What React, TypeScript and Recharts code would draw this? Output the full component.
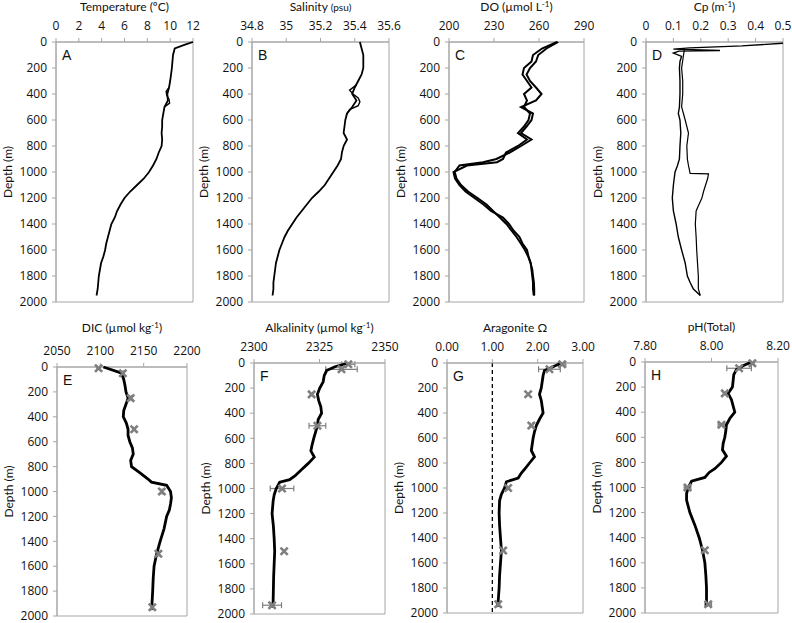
import React from "react";
import {
  ScatterChart,
  Scatter,
  XAxis,
  YAxis,
  ReferenceArea,
  ReferenceLine,
  ErrorBar,
} from "recharts";

const TICK_FONT = "'Open Sans', sans-serif";
const TITLE_FONT = "Lato, 'Open Sans', sans-serif";
const FRAME = "#a6a6a6";
const INK = "#111";
const MARK = "#7f7f7f";

const DEPTH_TICKS = [0, 200, 400, 600, 800, 1000, 1200, 1400, 1600, 1800, 2000];

// A - temperature
const A_DEPTH = [0, 20, 50, 100, 200, 300, 350, 400, 450, 500, 550, 600, 650, 700, 750, 800, 850, 900, 950, 1000, 1050, 1100, 1150, 1200, 1250, 1300, 1350, 1400, 1450, 1500, 1550, 1600, 1650, 1700, 1750, 1800, 1850, 1900, 1950];
const TEMP = [12.0, 11.3, 10.4, 10.25, 10.15, 10.0, 9.9, 9.75, 9.8, 9.5, 9.4, 9.3, 9.3, 9.25, 9.3, 9.25, 9.0, 8.8, 8.5, 8.15, 7.7, 7.1, 6.5, 6.0, 5.65, 5.35, 5.15, 4.85, 4.7, 4.55, 4.4, 4.3, 4.15, 3.95, 3.85, 3.75, 3.7, 3.65, 3.55];
const A_LOOP_DEPTH = [350, 380, 410, 440, 470, 500];
const TEMP_LOOP = [9.9, 9.65, 9.7, 9.9, 9.95, 9.5];

// B - salinity
const B_DEPTH = [0, 50, 100, 200, 250, 300, 350, 400, 450, 500, 550, 600, 650, 700, 750, 800, 850, 900, 950, 1000, 1050, 1100, 1150, 1200, 1250, 1300, 1350, 1400, 1450, 1500, 1550, 1600, 1650, 1700, 1750, 1800, 1850, 1900, 1950];
const SAL = [35.43, 35.44, 35.45, 35.45, 35.44, 35.42, 35.40, 35.385, 35.41, 35.385, 35.355, 35.345, 35.34, 35.335, 35.355, 35.335, 35.325, 35.32, 35.30, 35.275, 35.25, 35.225, 35.19, 35.15, 35.12, 35.09, 35.06, 35.035, 35.01, 34.99, 34.975, 34.96, 34.95, 34.94, 34.935, 34.93, 34.925, 34.925, 34.92];
const B_LOOP_DEPTH = [330, 370, 400, 430, 460, 490, 520, 560];
const SAL_LOOP = [35.41, 35.37, 35.39, 35.42, 35.43, 35.42, 35.37, 35.35];

// C - dissolved oxygen (two casts)
const C_DEPTH = [0, 50, 100, 150, 200, 250, 300, 350, 400, 450, 500, 550, 600, 650, 700, 750, 800, 850, 900, 925, 950, 1000, 1050, 1100, 1150, 1200, 1250, 1300, 1350, 1400, 1450, 1500, 1550, 1600, 1650, 1700, 1750, 1800, 1850, 1900, 1950];
const DO_DOWN = [272.8, 265, 259.5, 258, 254, 251.7, 254, 258, 261.7, 258, 248, 256, 255, 251.7, 248, 255, 248, 240.5, 231.6, 222.7, 207, 203.8, 205, 208, 212.7, 219, 225, 229.4, 233.9, 238.3, 241.6, 245, 247.9, 250.6, 252.8, 254.3, 255.5, 256, 256.6, 256.8, 256.8];
const DO_UP = [272, 262, 256, 255, 250, 249, 252, 255, 250, 252, 250, 254, 253, 250, 246, 252, 246, 238, 236, 232, 212, 203, 204, 207, 211, 217, 223, 228, 236, 240, 243, 247, 249, 252, 253, 254.5, 255, 255.5, 256, 256, 256.5];

// D - beam attenuation (two casts)
const D1_DEPTH = [10, 30, 45, 55, 65, 70, 85, 110, 150, 200, 300, 400, 500, 550, 600, 700, 800, 900, 950, 1000, 1100, 1200, 1300, 1400, 1500, 1600, 1700, 1800, 1850, 1900, 1950];
const CP1 = [0.5, 0.35, 0.16, 0.1, 0.27, 0.12, 0.1, 0.13, 0.124, 0.122, 0.124, 0.124, 0.122, 0.118, 0.124, 0.127, 0.124, 0.122, 0.115, 0.106, 0.1, 0.096, 0.1, 0.11, 0.118, 0.13, 0.143, 0.151, 0.161, 0.173, 0.198];
const D2_DEPTH = [60, 100, 200, 300, 400, 500, 600, 650, 700, 800, 900, 950, 1010, 1015, 1050, 1150, 1200, 1265, 1300, 1400, 1500, 1600, 1700, 1800, 1900, 1950];
const CP2 = [0.14, 0.137, 0.13, 0.134, 0.134, 0.13, 0.143, 0.149, 0.155, 0.149, 0.151, 0.155, 0.161, 0.228, 0.225, 0.21, 0.204, 0.19, 0.183, 0.18, 0.183, 0.185, 0.188, 0.191, 0.191, 0.198];

// bottle samples, shared depths
const SAMPLE_DEPTH = [10, 50, 250, 500, 1000, 1500, 1930];

// E - DIC
const E_DEPTH = [0, 50, 100, 150, 200, 250, 300, 350, 400, 450, 500, 550, 600, 650, 700, 750, 800, 850, 900, 925, 950, 1000, 1050, 1100, 1150, 1200, 1300, 1400, 1500, 1600, 1700, 1800, 1900, 1950];
const DIC = [2103.5, 2124.6, 2127, 2128.5, 2129.6, 2132, 2129.6, 2127, 2126.5, 2130, 2132, 2132, 2134, 2137, 2138, 2135, 2136, 2145.8, 2155, 2159, 2176.5, 2181, 2182, 2181, 2179.6, 2176.5, 2173.5, 2169, 2165, 2162, 2161, 2160.4, 2159.6, 2159.6];
const DIC_SAMPLES = [2098, 2126, 2135, 2139, 2171, 2167, 2160];
const DIC_ERR = [2, 1, 1, 1.5, 1, 1, 1];

// F - alkalinity
const F_DEPTH = [0, 30, 60, 100, 150, 200, 250, 300, 350, 400, 450, 500, 550, 600, 650, 700, 750, 800, 850, 900, 930, 950, 1000, 1050, 1100, 1200, 1300, 1400, 1500, 1600, 1700, 1800, 1900, 1950];
const ALK = [2336, 2330.9, 2327.7, 2326.8, 2326.4, 2325.1, 2324.2, 2324.7, 2325.5, 2325.8, 2324.5, 2324.2, 2323.5, 2322.8, 2322.2, 2321.7, 2323, 2320.7, 2318.1, 2315.6, 2313.6, 2309.8, 2308.5, 2307.7, 2307.3, 2306.9, 2307.4, 2307.7, 2307.9, 2307.7, 2307.5, 2307.4, 2307.3, 2307.1];
const ALK_SAMPLES = [2336, 2333.4, 2322, 2324.2, 2310.7, 2311.5, 2306.9];
const ALK_ERR = [2.5, 6, 0, 3.2, 4.5, 0, 3.6];

// G, H - carbonate system
const CARB_DEPTH = [0, 30, 60, 100, 150, 200, 250, 300, 350, 400, 450, 500, 550, 600, 650, 700, 750, 800, 850, 880, 920, 950, 1000, 1050, 1100, 1200, 1300, 1400, 1500, 1600, 1700, 1800, 1900, 1950];
const OMEGA = [2.52, 2.34, 2.15, 2.12, 2.10, 2.08, 2.04, 2.08, 2.10, 2.12, 2.04, 1.97, 1.93, 1.90, 1.88, 1.86, 1.93, 1.82, 1.71, 1.64, 1.57, 1.31, 1.27, 1.20, 1.16, 1.15, 1.16, 1.18, 1.20, 1.18, 1.16, 1.15, 1.13, 1.11];
const OMEGA_SAMPLES = [2.54, 2.26, 1.79, 1.86, 1.35, 1.24, 1.13];
const OMEGA_ERR = [0.08, 0.24, 0, 0.03, 0.03, 0.03, 0.03];
const PH = [8.12, 8.095, 8.075, 8.067, 8.065, 8.063, 8.05, 8.06, 8.065, 8.07, 8.055, 8.045, 8.043, 8.04, 8.035, 8.033, 8.045, 8.03, 8.01, 7.993, 7.98, 7.94, 7.93, 7.925, 7.925, 7.935, 7.95, 7.963, 7.973, 7.98, 7.983, 7.985, 7.985, 7.985];
const PH_SAMPLES = [8.123, 8.083, 8.04, 8.03, 7.928, 7.98, 7.99];
const PH_ERR = [0.005, 0.037, 0, 0.01, 0.01, 0, 0.01];

const zip = (depth: number[], value: number[], err?: number[]) =>
  depth.map((d, i) => ({ d, v: value[i], e: err ? err[i] : 0 }));

type Title = { pre: string; sup?: string; post?: string; small?: string };

const PANELS = [
  {
    letter: "A", box: { x: 56, y: 41.7, w: 137, h: 260 }, gap: 31,
    title: { pre: "Temperature (ºC)" } as Title,
    domain: [0, 12], ticks: [0, 2, 4, 6, 8, 10, 12], digits: -1,
    lines: [{ pts: zip(A_DEPTH, TEMP), w: 1.8 }, { pts: zip(A_LOOP_DEPTH, TEMP_LOOP), w: 1.4 }],
  },
  {
    letter: "B", box: { x: 252, y: 41.7, w: 137, h: 260 }, gap: 31,
    title: { pre: "Salinity ", small: " (psu)" } as Title,
    domain: [34.8, 35.6], ticks: [34.8, 35, 35.2, 35.4, 35.6], digits: -1,
    lines: [{ pts: zip(B_DEPTH, SAL), w: 1.8 }, { pts: zip(B_LOOP_DEPTH, SAL_LOOP), w: 1.4 }],
  },
  {
    letter: "C", box: { x: 449, y: 41.7, w: 135, h: 260 }, gap: 31,
    title: { pre: "DO (µmol L", sup: "-1", post: ")" } as Title,
    domain: [200, 290], ticks: [200, 230, 260, 290], digits: -1,
    lines: [{ pts: zip(C_DEPTH, DO_DOWN), w: 2 }, { pts: zip(C_DEPTH, DO_UP), w: 2 }],
  },
  {
    letter: "D", box: { x: 646, y: 41.7, w: 137, h: 260 }, gap: 31,
    title: { pre: "Cp (m", sup: "-1", post: ")" } as Title,
    domain: [0, 0.5], ticks: [0, 0.1, 0.2, 0.3, 0.4, 0.5], digits: -1,
    lines: [{ pts: zip(D1_DEPTH, CP1), w: 1.4 }, { pts: zip(D2_DEPTH, CP2), w: 1.2 }],
  },
  {
    letter: "E", box: { x: 57, y: 367.3, w: 130, h: 249 }, gap: 34.6,
    title: { pre: "DIC (µmol kg", sup: "-1", post: ")" } as Title,
    domain: [2050, 2200], ticks: [2050, 2100, 2150, 2200], digits: -1,
    lines: [{ pts: zip(E_DEPTH, DIC), w: 2.8 }],
    samples: zip(SAMPLE_DEPTH, DIC_SAMPLES, DIC_ERR),
  },
  {
    letter: "F", box: { x: 254, y: 363.3, w: 131, h: 251 }, gap: 31,
    title: { pre: "Alkalinity (µmol kg", sup: "-1", post: ")" } as Title,
    domain: [2300, 2350], ticks: [2300, 2325, 2350], digits: -1,
    lines: [{ pts: zip(F_DEPTH, ALK), w: 2.8 }],
    samples: zip(SAMPLE_DEPTH, ALK_SAMPLES, ALK_ERR),
  },
  {
    letter: "G", box: { x: 447, y: 363.3, w: 136, h: 250 }, gap: 30.6,
    title: { pre: "Aragonite Ω" } as Title,
    domain: [0, 3], ticks: [0, 1, 2, 3], digits: 2, refX: 1,
    lines: [{ pts: zip(CARB_DEPTH, OMEGA), w: 2.8 }],
    samples: zip(SAMPLE_DEPTH, OMEGA_SAMPLES, OMEGA_ERR),
  },
  {
    letter: "H", box: { x: 645, y: 362.3, w: 133, h: 251 }, gap: 31.3,
    title: { pre: "pH(Total)" } as Title,
    domain: [7.8, 8.2], ticks: [7.8, 8.0, 8.2], digits: 2,
    lines: [{ pts: zip(CARB_DEPTH, PH), w: 2.8 }],
    samples: zip(SAMPLE_DEPTH, PH_SAMPLES, PH_ERR),
  },
];

const AXIS_W = 56;
const AXIS_H = 48;
const RIGHT = 16;
const BOTTOM = 10;

function XMark(props: any) {
  const { cx, cy } = props;
  if (cx == null || cy == null) return <g />;
  const s = 3.6;
  return (
    <path
      d={`M${cx - s},${cy - s}L${cx + s},${cy + s}M${cx - s},${cy + s}L${cx + s},${cy - s}`}
      stroke={MARK}
      strokeWidth={2.6}
      fill="none"
    />
  );
}

const NoDot = () => <g />;

// title above the plot, placed from the panel box (chart coordinates)
function AxisTitle(props: any) {
  const { t, cx, baseline } = props;
  return (
    <text x={cx} y={baseline} textAnchor="middle" fontSize={12} fontFamily={TITLE_FONT} fill={INK}>
      {t.pre}
      {t.sup && (
        <tspan dy={-4} fontSize={8}>
          {t.sup}
        </tspan>
      )}
      {t.post && <tspan dy={4}>{t.post}</tspan>}
      {t.small && <tspan fontSize={10}>{t.small}</tspan>}
    </text>
  );
}

function DepthTitle(props: any) {
  const { cy } = props;
  const x = 7;
  return (
    <text
      x={x}
      y={cy}
      transform={`rotate(-90 ${x} ${cy})`}
      textAnchor="middle"
      dominantBaseline="central"
      fontSize={12}
      fontFamily={TITLE_FONT}
      fill={INK}
    >
      Depth (m)
    </text>
  );
}

function Letter(props: any) {
  const { viewBox, text } = props;
  return (
    <text x={viewBox.x + 6} y={viewBox.y + 17.5} fontSize={14} fontFamily="'Liberation Sans', Arial, sans-serif" fill={INK}>
      {text}
    </text>
  );
}

function Panel({ p }: { p: (typeof PANELS)[number] }) {
  const { box } = p;
  const fmt = (v: number) => (p.digits >= 0 ? v.toFixed(p.digits) : String(v));
  return (
    <div style={{ position: "absolute", left: box.x - AXIS_W, top: box.y - AXIS_H }}>
      <ScatterChart
        width={AXIS_W + box.w + RIGHT}
        height={AXIS_H + box.h + BOTTOM}
        margin={{ top: 0, left: 0, right: RIGHT, bottom: BOTTOM }}
      >
        <XAxis
          type="number"
          dataKey="v"
          orientation="top"
          domain={p.domain}
          ticks={p.ticks}
          tickFormatter={fmt}
          interval={0}
          height={AXIS_H}
          tickSize={4}
          tickMargin={8}
          tick={{ fontSize: 12, fill: INK, fontFamily: TICK_FONT }}
          tickLine={{ stroke: FRAME }}
          axisLine={{ stroke: FRAME }}
          label={<AxisTitle t={p.title} cx={AXIS_W + box.w / 2} baseline={AXIS_H - p.gap} />}
        />
        <YAxis
          type="number"
          dataKey="d"
          domain={[0, 2000]}
          reversed
          ticks={DEPTH_TICKS}
          interval={0}
          width={AXIS_W}
          tickSize={4}
          tickMargin={5}
          tick={{ fontSize: 12, fill: INK, fontFamily: TICK_FONT }}
          tickLine={{ stroke: FRAME }}
          axisLine={{ stroke: FRAME }}
          label={<DepthTitle cy={AXIS_H + box.h / 2} />}
        />
        <ReferenceArea
          x1={p.domain[0]}
          x2={p.domain[1]}
          y1={0}
          y2={2000}
          fill="none"
          stroke={FRAME}
          strokeOpacity={1}
          fillOpacity={0}
          label={<Letter text={p.letter} />}
        />
        {p.refX !== undefined && (
          <ReferenceLine x={p.refX} stroke="#000" strokeWidth={1.3} strokeDasharray="4 3" />
        )}
        {p.lines.map((l, i) => (
          <Scatter
            key={i}
            data={l.pts}
            line={{ stroke: "#000", strokeWidth: l.w }}
            shape={NoDot}
            isAnimationActive={false}
          />
        ))}
        {p.samples && (
          <Scatter data={p.samples} shape={XMark} isAnimationActive={false}>
            <ErrorBar dataKey="e" direction="x" width={3} stroke={MARK} strokeWidth={1.2} />
          </Scatter>
        )}
      </ScatterChart>
    </div>
  );
}

export default function App() {
  return (
    <div style={{ position: "absolute", left: 0, top: 0, width: 792, height: 623, background: "#fff" }}>
      {PANELS.map((p) => (
        <Panel key={p.letter} p={p} />
      ))}
    </div>
  );
}
